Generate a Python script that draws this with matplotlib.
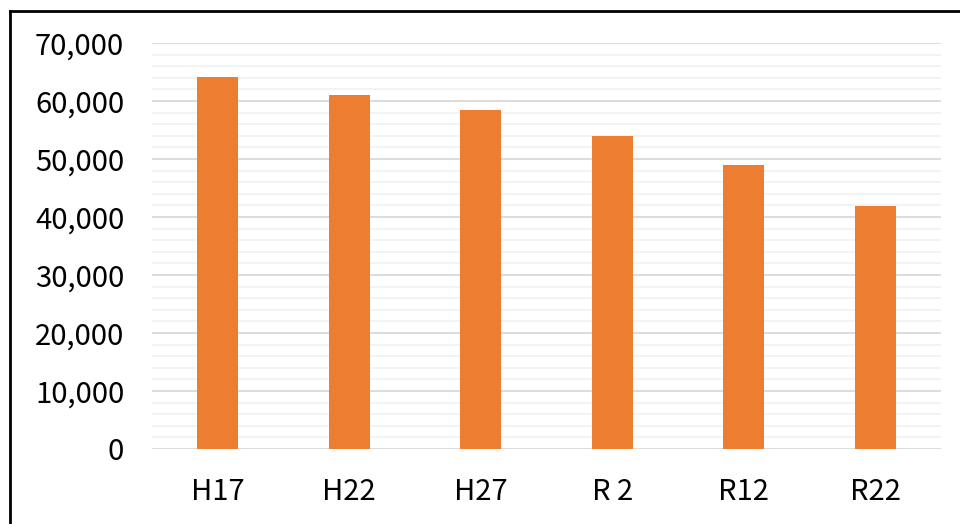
import matplotlib.pyplot as plt
from matplotlib.lines import Line2D
from matplotlib.ticker import MultipleLocator, FuncFormatter

plt.rcParams['font.family'] = ['Noto Sans CJK JP', 'DejaVu Sans']

labels = ['H17', 'H22', 'H27', 'R 2', 'R12', 'R22']
values = [64100, 61000, 58400, 54000, 49000, 41900]

fig = plt.figure(figsize=(9.6, 5.24), dpi=100)
ax = fig.add_axes([152 / 960, 1 - 449 / 524, (941 - 152) / 960, (449 - 43) / 524])

x = range(len(labels))
ax.bar(x, values, width=0.31, color='#ED7D31', zorder=3)

ax.set_xlim(-0.5, len(labels) - 0.5)
ax.set_ylim(0, 70000)
ax.yaxis.set_major_locator(MultipleLocator(10000))
ax.yaxis.set_minor_locator(MultipleLocator(2000))
ax.yaxis.set_major_formatter(FuncFormatter(lambda v, p: f'{int(v):,}'))
ax.grid(axis='y', which='major', color='#D9D9D9', linewidth=1.3, zorder=0)
ax.grid(axis='y', which='minor', color='#F2F2F2', linewidth=1.3, zorder=0)

ax.set_xticks(list(x))
ax.set_xticklabels(labels)
ax.tick_params(axis='both', which='both', length=0, labelsize=21)
ax.tick_params(axis='x', pad=20)
ax.tick_params(axis='y', pad=20)
for s in ax.spines.values():
    s.set_visible(False)

# outer frame (left and top only)
fig.add_artist(Line2D([10 / 960, 10 / 960], [0, 1 - 11 / 524], color='black', lw=2))
fig.add_artist(Line2D([10 / 960, 1], [1 - 11 / 524, 1 - 11 / 524], color='black', lw=2))

fig.savefig('out.png', dpi=100)
